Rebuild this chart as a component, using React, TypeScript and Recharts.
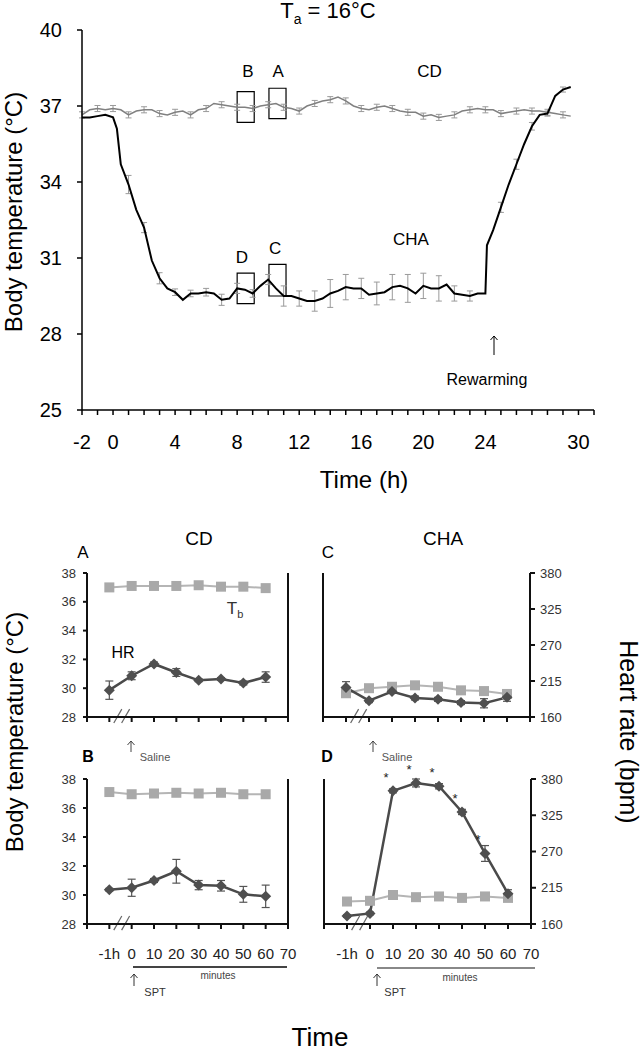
import React from "react";
import {
  LineChart,
  ComposedChart,
  Line,
  XAxis,
  YAxis,
  ErrorBar,
  ReferenceArea,
  ReferenceDot,
  ReferenceLine,
} from "recharts";

const FONT = "'Liberation Sans', Arial, sans-serif";

// ---- top panel: Tb over 32 h at Ta = 16°C ----
const cdTimes = [
  -2, -1.5, -1, -0.5, 0, 0.5, 1, 1.5, 2, 2.5, 3, 3.5, 4, 4.5, 5, 5.5,
  6, 6.5, 7, 7.5, 8, 8.5, 9, 9.5, 10, 10.5, 11, 11.5, 12, 12.5, 13, 13.5,
  14, 14.5, 15, 15.5, 16, 16.5, 17, 17.5, 18, 18.5, 19, 19.5, 20, 20.5, 21, 21.5,
  22, 22.5, 23, 23.5, 24, 24.5, 25, 25.5, 26, 26.5, 27, 27.5, 28, 28.5, 29, 29.5,
];
const cdValues = [
  36.65, 36.85, 36.9, 36.85, 36.9, 36.85, 36.65, 36.8, 36.85, 36.85, 36.7, 36.65, 36.75, 36.8, 36.65, 36.85,
  36.9, 37.1, 37.05, 37.0, 36.95, 36.95, 36.9, 37.0, 37.05, 37.1, 36.95, 36.9, 36.8, 37.0, 37.1, 37.2,
  37.25, 37.35, 37.2, 37.0, 36.9, 36.85, 36.95, 37.0, 36.9, 36.8, 36.75, 36.75, 36.6, 36.65, 36.55, 36.6,
  36.65, 36.8, 36.85, 36.9, 36.85, 36.85, 36.7, 36.75, 36.8, 36.85, 36.8, 36.8, 36.75, 36.7, 36.65, 36.6,
];
const cdErr = [
  0.12, null, 0.12, null, 0.12, null, 0.12, null, 0.12, null, 0.12, null, 0.12, null, 0.12, null,
  0.12, null, 0.12, null, 0.12, null, 0.12, null, 0.12, null, 0.12, null, 0.12, null, 0.12, null,
  0.12, null, 0.12, null, 0.12, null, 0.12, null, 0.12, null, 0.12, null, 0.12, null, 0.12, null,
  0.12, null, 0.12, null, 0.12, null, 0.12, null, 0.12, null, 0.12, null, 0.12, null, 0.12, null,
];

const chaTimes = [
  -2, -1.5, -1, -0.5, 0, 0.25, 0.5, 1, 1.5, 2, 2.5, 3, 3.5, 4, 4.5, 5,
  5.5, 6, 6.5, 7, 7.5, 8, 8.5, 9, 9.5, 10, 10.5, 11, 11.5, 12, 12.5, 13,
  13.5, 14, 14.5, 15, 15.5, 16, 16.5, 17, 17.5, 18, 18.5, 19, 19.5, 20, 20.5, 21,
  21.5, 22, 22.5, 23, 23.5, 24, 24.1, 24.5, 25, 25.5, 26, 26.5, 27, 27.5, 28, 28.5,
  29, 29.5,
];
const chaValues = [
  36.55, 36.55, 36.6, 36.65, 36.55, 36.1, 34.7, 33.9, 32.9, 32.2, 30.9, 30.2, 29.8, 29.65, 29.35, 29.6,
  29.6, 29.65, 29.6, 29.35, 29.4, 29.8, 29.75, 29.6, 29.9, 30.15, 29.8, 29.5, 29.5, 29.4, 29.3, 29.3,
  29.4, 29.6, 29.7, 29.85, 29.8, 29.8, 29.55, 29.6, 29.65, 29.85, 29.9, 29.8, 29.6, 29.9, 29.8, 29.8,
  29.95, 29.6, 29.55, 29.5, 29.6, 29.6, 31.5, 32.1, 33.0, 33.9, 34.7, 35.5, 36.2, 36.65, 36.7, 37.4,
  37.65, 37.75,
];
const chaErr = [
  null, null, null, null, null, null, null, 0.36, null, 0.2, null, 0.22, null, 0.13, null, 0.13,
  null, 0.15, null, 0.22, null, 0.2, null, 0.15, null, 0.2, null, 0.4, null, 0.3, null, 0.4,
  null, 0.55, null, 0.5, null, 0.4, null, 0.45, null, 0.5, null, 0.55, null, 0.5, null, 0.5,
  null, 0.3, null, 0.2, null, null, null, null, 0.2, null, 0.2, null, 0.15, null, 0.1, null,
  0.1, null,
];

const topXLabels = [-2, 0, 4, 8, 12, 16, 20, 24, 30];
const topYTicks = [25, 28, 31, 34, 37, 40];
const hourTicks = Array.from({ length: 34 }, (_, i) => i - 2);

// boxes marking the windows zoomed below
const boxes = [
  { id: "B", x1: 8.0, x2: 9.1, y1: 36.35, y2: 37.57 },
  { id: "A", x1: 10.05, x2: 11.15, y1: 36.5, y2: 37.7 },
  { id: "D", x1: 8.0, x2: 9.1, y1: 29.2, y2: 30.4 },
  { id: "C", x1: 10.05, x2: 11.15, y1: 29.5, y2: 30.75 },
];
const topNotes = [
  { text: "B", x: 8.7, y: 38.4 },
  { text: "A", x: 10.65, y: 38.4 },
  { text: "CD", x: 20.4, y: 38.4 },
  { text: "D", x: 8.3, y: 31.05 },
  { text: "C", x: 10.45, y: 31.4 },
  { text: "CHA", x: 19.2, y: 31.75 },
];

// ---- bottom panels: Tb (squares) and HR (diamonds) ----
const minuteLabels = ["-1h", "0", "10", "20", "30", "40", "50", "60", "70"];

const tbA = [37.0, 37.1, 37.1, 37.1, 37.15, 37.05, 37.05, 36.95];
const hrA = [201, 223, 241, 228, 216, 218, 212, 221];
const hrAErr = [14, 6, 3, 6, 2, 2, 3, 8];

const tbC = [29.65, 30.0, 30.1, 30.2, 30.1, 29.85, 29.8, 29.6];
const hrC = [205, 185, 199, 189, 187, 182, 181, 190];
const hrCErr = [9, 3, 3, 3, 3, 3, 7, 6];

const tbB = [37.1, 36.95, 37.0, 37.05, 37.0, 37.05, 36.95, 36.95];
const hrB = [212, 215, 226, 240, 219, 218, 205, 202];
const hrBErr = [2, 13, 3, 18, 7, 8, 12, 17];

const tbD = [29.55, 29.6, 30.0, 29.85, 29.9, 29.8, 29.9, 29.8];
const hrD = [172, 176, 362, 374, 369, 330, 267, 206];
const hrDErr = [2, 2, 3, 6, 4, 4, 12, 6];
const sigD = [false, false, true, true, true, true, true, false];

const tempTicks = [28, 30, 32, 34, 36, 38];
const hrTicks = [160, 215, 270, 325, 380];

const cdData = cdTimes.map((t, i) => ({ t, v: cdValues[i], e: cdErr[i] }));
const chaData = chaTimes.map((t, i) => ({ t, v: chaValues[i], e: chaErr[i] }));

function Txt({ x, y, size, children, rotate, color, weight }: any) {
  return (
    <div
      style={{
        position: "absolute",
        left: x,
        top: y,
        transform: `translate(-50%, -50%)${rotate ? ` rotate(${rotate}deg)` : ""}`,
        fontSize: size,
        fontFamily: FONT,
        color: color || "#000",
        fontWeight: weight || "normal",
        whiteSpace: "nowrap",
        lineHeight: 1,
      }}
    >
      {children}
    </div>
  );
}

// small upward arrow, tip at (x, y)
function Arrow({ x, y, len, color }: any) {
  return (
    <svg
      style={{ position: "absolute", left: x - 5, top: y - 1, overflow: "visible" }}
      width={10}
      height={len + 2}
    >
      <line x1={5} y1={1} x2={5} y2={len + 1} stroke={color || "#333"} strokeWidth={1} />
      <polyline points={`1.5,5 5,1 8.5,5`} fill="none" stroke={color || "#333"} strokeWidth={1} />
    </svg>
  );
}

const Square = (p: any) => (
  <rect key={`s${p.index}`} x={p.cx - 5} y={p.cy - 5} width={10} height={10} fill="#a9a9a9" />
);
const Diamond = (p: any) => (
  <polygon
    key={`d${p.index}`}
    points={`${p.cx},${p.cy - 5.5} ${p.cx + 5.5},${p.cy} ${p.cx},${p.cy + 5.5} ${p.cx - 5.5},${p.cy}`}
    fill="#4f4f4f"
  />
);

const TOPPAD = 25;

function Panel({ plotLeft, plotTop, plotW, plotH, tb, hr, hrErr, leftLabels, rightLabels, xLabels, sig }: any) {
  const data = tb.map((v: number, i: number) => ({ x: i + 1, tb: v, hr: hr[i], e: hrErr[i] }));
  const unit = plotW / 9;
  const slash = 8 / unit;
  return (
    <div style={{ position: "absolute", left: plotLeft - 60, top: plotTop - TOPPAD }}>
      <ComposedChart
        width={plotW + 130}
        height={plotH + TOPPAD + 50}
        data={data}
        margin={{ top: TOPPAD, right: 20, left: 20, bottom: 10 }}
      >
        <XAxis
          type="number"
          dataKey="x"
          domain={[0, 9]}
          ticks={[0, 1, 2, 3, 4, 5, 6, 7, 8, 9]}
          interval={0}
          tickFormatter={(v: number) => (xLabels ? minuteLabels[v - 1] ?? "" : "")}
          height={40}
          tickSize={5}
          tickMargin={19}
          stroke="#111"
          strokeWidth={2}
          tick={{ fontSize: 15, fill: "#222", fontFamily: FONT }}
        />
        <YAxis
          yAxisId="l"
          orientation="left"
          type="number"
          domain={[28, 38]}
          ticks={tempTicks}
          interval={0}
          width={40}
          tickSize={4}
          tickMargin={7}
          stroke="#111"
          strokeWidth={2}
          tick={leftLabels ? { fontSize: 13, fill: "#333", fontFamily: FONT } : false}
        />
        <YAxis
          yAxisId="r"
          orientation="right"
          type="number"
          domain={[160, 380]}
          ticks={hrTicks}
          interval={0}
          width={50}
          tickSize={5}
          tickMargin={5}
          stroke="#111"
          strokeWidth={2}
          tick={rightLabels ? { fontSize: 13, fill: "#333", fontFamily: FONT, textAnchor: "start" } : false}
        />
        <ReferenceLine
          yAxisId="l"
          ifOverflow="visible"
          stroke="#666"
          strokeWidth={1.2}
          segment={[{ x: 1.2, y: 27.58 }, { x: 1.2 + slash, y: 28.55 }]}
        />
        <ReferenceLine
          yAxisId="l"
          ifOverflow="visible"
          stroke="#666"
          strokeWidth={1.2}
          segment={[{ x: 1.55, y: 27.58 }, { x: 1.55 + slash, y: 28.55 }]}
        />
        <Line
          yAxisId="l"
          dataKey="tb"
          stroke="#b5b5b5"
          strokeWidth={2}
          dot={Square}
          activeDot={false}
          isAnimationActive={false}
        />
        <Line
          yAxisId="r"
          dataKey="hr"
          stroke="#4a4a4a"
          strokeWidth={2.5}
          dot={Diamond}
          activeDot={false}
          isAnimationActive={false}
          label={
            sig
              ? (p: any) =>
                  sig[p.index] ? (
                    <text key={`k${p.index}`} x={p.x - 7} y={p.y - 9} fontSize={13} textAnchor="middle" fill="#222">
                      *
                    </text>
                  ) : (
                    <g key={`k${p.index}`} />
                  )
              : false
          }
        >
          <ErrorBar dataKey="e" width={4} stroke="#555" strokeWidth={1.2} direction="y" />
        </Line>
      </ComposedChart>
    </div>
  );
}

export default function App() {
  return (
    <div
      style={{
        position: "absolute",
        left: 0,
        top: 0,
        width: 641,
        height: 1050,
        background: "#fff",
        fontFamily: FONT,
      }}
    >
      <Txt x={328} y={13} size={22}>
        T<sub style={{ fontSize: 14 }}>a</sub> = 16°C
      </Txt>
      <div style={{ position: "absolute", left: 0, top: 0 }}>
        <LineChart width={641} height={470} margin={{ top: 30, right: 47, left: 32, bottom: 30 }}>
          <XAxis
            type="number"
            dataKey="t"
            domain={[-2, 31]}
            ticks={hourTicks}
            interval={0}
            allowDataOverflow
            tickFormatter={(v: number) => (topXLabels.includes(v) ? String(v) : "")}
            height={30}
            tickSize={5}
            tickMargin={20}
            stroke="#000"
            strokeWidth={1.5}
            tick={{ fontSize: 20, fill: "#000", fontFamily: FONT }}
          />
          <YAxis
            type="number"
            domain={[25, 40]}
            ticks={topYTicks}
            interval={0}
            width={50}
            tickSize={5}
            tickMargin={15}
            stroke="#000"
            strokeWidth={1.5}
            tick={{ fontSize: 20, fill: "#000", fontFamily: FONT }}
          />
          {boxes.map((b) => (
            <ReferenceArea
              key={b.id}
              x1={b.x1}
              x2={b.x2}
              y1={b.y1}
              y2={b.y2}
              fill="none"
              fillOpacity={0}
              stroke="#000"
              strokeWidth={1.2}
            />
          ))}
          <Line
            data={cdData}
            dataKey="v"
            stroke="#808080"
            strokeWidth={1.5}
            dot={false}
            activeDot={false}
            isAnimationActive={false}
          >
            <ErrorBar dataKey="e" width={3} stroke="#9a9a9a" strokeWidth={1} direction="y" />
          </Line>
          <Line
            data={chaData}
            dataKey="v"
            stroke="#000"
            strokeWidth={2}
            dot={false}
            activeDot={false}
            isAnimationActive={false}
          >
            <ErrorBar dataKey="e" width={3} stroke="#9a9a9a" strokeWidth={1} direction="y" />
          </Line>
          {topNotes.map((n) => (
            <ReferenceDot
              key={n.text}
              x={n.x}
              y={n.y}
              r={0}
              fill="none"
              stroke="none"
              label={{ value: n.text, position: "center", fontSize: 17, fill: "#000", fontFamily: FONT }}
            />
          ))}
          <ReferenceDot
            x={24.1}
            y={26.2}
            r={0}
            fill="none"
            stroke="none"
            label={{ value: "Rewarming", position: "center", fontSize: 16, fill: "#000", fontFamily: FONT }}
          />
        </LineChart>
      </div>
      <Arrow x={494} y={336} len={19} color="#000" />
      <Txt x={14} y={212} size={24} rotate={-90}>
        Body temperature (°C)
      </Txt>
      <Txt x={364} y={480} size={24}>
        Time (h)
      </Txt>

      <Txt x={199} y={538} size={19}>CD</Txt>
      <Txt x={443} y={538} size={19}>CHA</Txt>
      <Txt x={83} y={552} size={17}>A</Txt>
      <Txt x={328} y={552} size={17}>C</Txt>
      <Txt x={88} y={757} size={16} weight="bold">B</Txt>
      <Txt x={327} y={757} size={16} weight="bold">D</Txt>

      <Panel plotLeft={87} plotTop={573} plotW={201} plotH={144} tb={tbA} hr={hrA} hrErr={hrAErr} leftLabels />
      <Panel plotLeft={323} plotTop={573} plotW={207} plotH={144} tb={tbC} hr={hrC} hrErr={hrCErr} rightLabels />
      <Panel plotLeft={87} plotTop={779} plotW={201} plotH={145} tb={tbB} hr={hrB} hrErr={hrBErr} leftLabels xLabels />
      <Panel
        plotLeft={324}
        plotTop={779}
        plotW={207}
        plotH={145}
        tb={tbD}
        hr={hrD}
        hrErr={hrDErr}
        rightLabels
        xLabels
        sig={sigD}
      />

      <Txt x={123} y={653} size={16}>HR</Txt>
      <Txt x={235} y={610} size={17} color="#333">
        T<sub style={{ fontSize: 11 }}>b</sub>
      </Txt>

      <Arrow x={131} y={741} len={11} color="#444" />
      <Txt x={155} y={757} size={11} color="#555">Saline</Txt>
      <Arrow x={373} y={741} len={11} color="#444" />
      <Txt x={397} y={757} size={11} color="#555">Saline</Txt>

      <div style={{ position: "absolute", left: 133, top: 966, width: 154, height: 1.5, background: "#444" }} />
      <Txt x={218} y={976} size={10} color="#444">minutes</Txt>
      <Arrow x={134} y={974} len={12} color="#333" />
      <Txt x={155} y={992} size={11} color="#333">SPT</Txt>

      <div style={{ position: "absolute", left: 377, top: 967, width: 158, height: 1.5, background: "#888" }} />
      <Txt x={460} y={978} size={10} color="#444">minutes</Txt>
      <Arrow x={377} y={974} len={12} color="#333" />
      <Txt x={395} y={992} size={11} color="#333">SPT</Txt>

      <Txt x={15} y={732} size={24} rotate={-90}>
        Body temperature (°C)
      </Txt>
      <Txt x={628} y={732} size={25} rotate={90}>
        Heart rate (bpm)
      </Txt>
      <Txt x={320} y={1037} size={26}>
        Time
      </Txt>
    </div>
  );
}
